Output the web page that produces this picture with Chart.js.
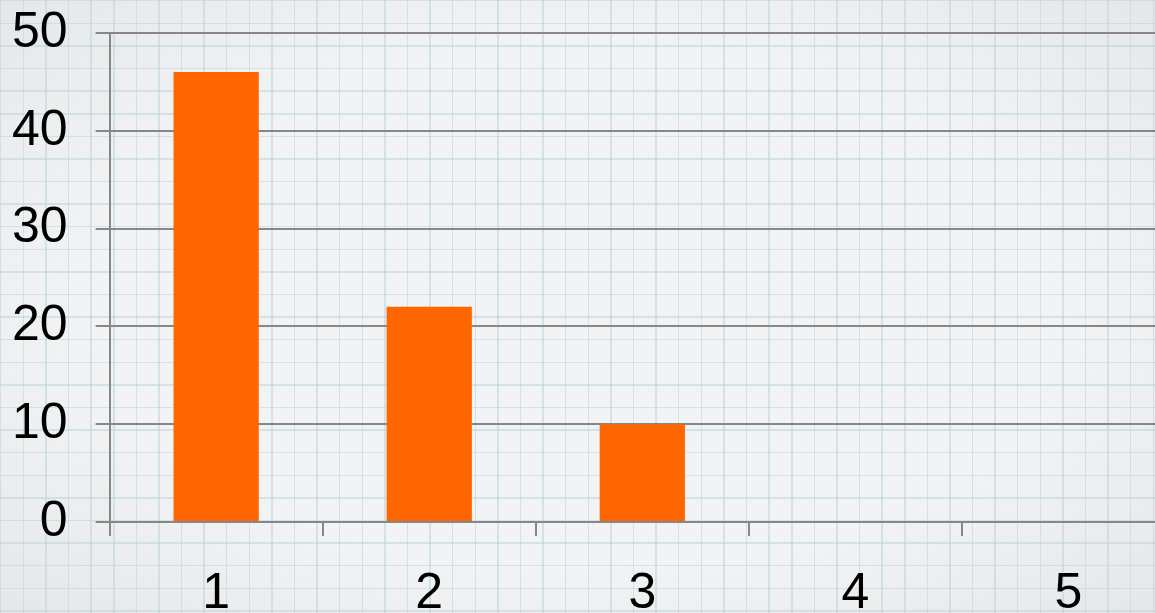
<!DOCTYPE html>
<html>
<head>
<meta charset="utf-8">
<script src="https://cdn.jsdelivr.net/npm/chart.js@4"></script>
<style>
  html, body { margin: 0; padding: 0; overflow: hidden; }
  body {
    position: relative;
    width: 1155px; height: 613px;
    background-color: #f1f3f4;
    background-image:
      radial-gradient(ellipse at center, rgba(255, 255, 255, 0) 60%, rgba(200, 205, 210, 0.3) 100%),
      repeating-linear-gradient(to right, rgba(180, 210, 220, 0.5) 0, rgba(180, 210, 220, 0.5) 1.5px, transparent 1.5px, transparent 22.6px),
      repeating-linear-gradient(to bottom, rgba(180, 210, 220, 0.5) 0, rgba(180, 210, 220, 0.5) 1.5px, transparent 1.5px, transparent 22.6px);
  }
  #wrap { position: absolute; left: -31px; top: -20px; width: 1206px; height: 672px; }
</style>
</head>
<body>
<div id="wrap"><canvas id="barChart"></canvas></div>
<script>
const categories = ['1', '2', '3', '4', '5'];
const values = [46, 22, 10, 0, 0];
const yTicks = [0, 10, 20, 30, 40, 50];

const axisColor = '#878787';
const font = { family: '"Liberation Sans", Arial, sans-serif', size: 50, lineHeight: 1 };

const ctx = document.getElementById('barChart').getContext('2d');
new Chart(ctx, {
    type: 'bar',
    data: {
        labels: categories,
        datasets: [{
            label: 'Values',
            data: values,
            backgroundColor: '#ff6600',
            barPercentage: 0.4,
            categoryPercentage: 1
        }]
    },
    options: {
        responsive: true,
        maintainAspectRatio: false,
        animation: false,
        layout: { padding: { top: 9, left: 15, right: 0, bottom: 0 } },
        plugins: { legend: { display: false }, tooltip: { enabled: false } },
        scales: {
            x: {
                offset: true,
                grid: { offset: true, drawOnChartArea: false, color: axisColor, lineWidth: 2, tickLength: 14 },
                border: { display: false },
                ticks: { color: '#000', font: font, padding: 33 }
            },
            y: {
                min: yTicks[0],
                max: yTicks[yTicks.length - 1],
                afterBuildTicks: axis => { axis.ticks = yTicks.map(v => ({ value: v })); },
                grid: { color: axisColor, lineWidth: 2, tickLength: 14 },
                border: { display: true, color: axisColor, width: 2 },
                ticks: { color: '#000', font: font, padding: 28 }
            }
        }
    }
});
</script>
</body>
</html>
